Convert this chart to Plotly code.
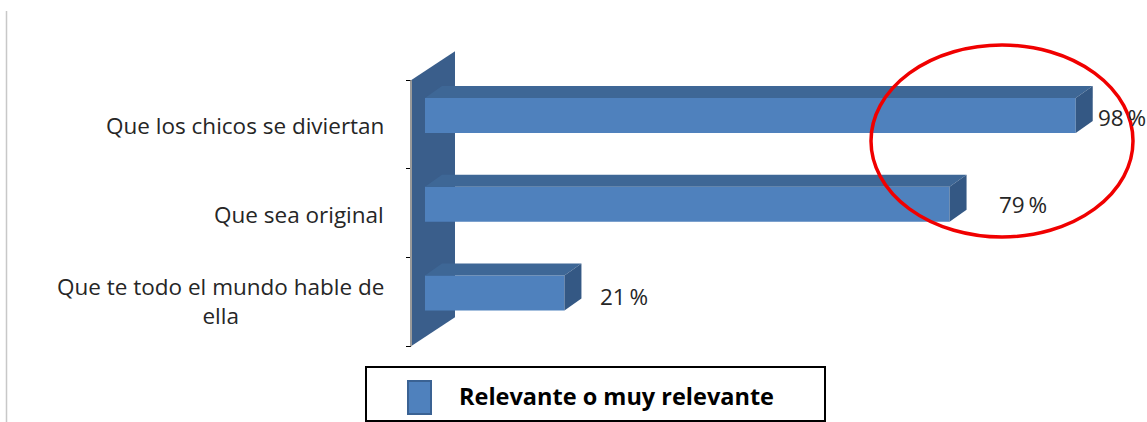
import plotly.graph_objects as go

# Survey results: share of answers rated "relevant or very relevant"
categories = [
    "Que los chicos se diviertan",
    "Que sea original",
    "Que te todo el mundo hable de<br>ella",
]
values = [98, 79, 21]
series_name = "Relevante o muy relevante"

W, H = 1147, 422

# Axis mapping (plot area spans the whole figure)
X0_PX, PX_PER_X = 425.0, 6.64         # pixel of value 0 and pixels per percent
Y0_PX, PX_PER_Y = 124.5, 88.7         # pixel of first category centre and per category
x_range = [-X0_PX / PX_PER_X, (W - X0_PX) / PX_PER_X]
y_range = [(H - Y0_PX) / PX_PER_Y, -Y0_PX / PX_PER_Y]   # reversed: first category on top


def dx(px):
    return px / PX_PER_X


def dy(px):
    return px / PX_PER_Y


FRONT = "#4F81BD"
TOP = "#3E6796"
SIDE = "#345884"
WALL = "#3A5E8B"

bar_width = dy(35)
bar_offset = -dy(26.5)
depth_x, depth_y = dx(17), dy(-12)

fig = go.Figure()

# Top and side faces of the 3D bars
for i, v in enumerate(values):
    yt = i + bar_offset
    yb = yt + bar_width
    fig.add_trace(go.Scatter(
        x=[0, v, v + depth_x, depth_x, 0],
        y=[yt, yt, yt + depth_y, yt + depth_y, yt],
        mode="lines", fill="toself", fillcolor=TOP,
        line=dict(width=0), hoverinfo="skip", showlegend=False))
    fig.add_trace(go.Scatter(
        x=[v, v + depth_x, v + depth_x, v, v],
        y=[yt, yt + depth_y, yb + depth_y, yb, yt],
        mode="lines", fill="toself", fillcolor=SIDE,
        line=dict(width=0), hoverinfo="skip", showlegend=False))

# Front faces
fig.add_trace(go.Bar(
    x=values, y=list(range(len(values))), orientation="h",
    width=bar_width, offset=bar_offset, base=0,
    marker=dict(color=FRONT, line=dict(width=0)),
    name=series_name, showlegend=False, hoverinfo="x"))

# Back wall of the 3D plot (drawn below the traces)
n = len(categories)
wall_x, wall_dx, wall_dy = dx(411 - X0_PX), dx(44), dy(-29)
wall_pts = [(wall_x, -0.5), (wall_x + wall_dx, -0.5 + wall_dy),
            (wall_x + wall_dx, n - 0.5 + wall_dy), (wall_x, n - 0.5)]
wall_path = "M " + " L ".join(f"{px},{py}" for px, py in wall_pts) + " Z"
shapes = [dict(type="path", xref="x", yref="y", path=wall_path,
               fillcolor=WALL, line=dict(width=0), layer="below")]

# Category axis line along the front edge of the wall
shapes.append(dict(type="line", xref="x", yref="y",
                   x0=wall_x, x1=wall_x, y0=-0.5, y1=n - 0.5,
                   line=dict(color="#9A9A9A", width=2)))

# Thin frame line on the left
shapes.append(dict(type="line", xref="paper", yref="paper",
                   x0=6.5 / W, x1=6.5 / W, y0=1 - 11 / H, y1=0,
                   line=dict(color="#C8C8C8", width=1.5)))

# Highlight ellipse around the top values
shapes.append(dict(type="circle", xref="paper", yref="paper",
                   x0=871 / W, x1=1133 / W, y0=1 - 45 / H, y1=1 - 237 / H,
                   line=dict(color="#F00000", width=3.5)))

# Legend box
shapes.append(dict(type="rect", xref="paper", yref="paper",
                   x0=366 / W, x1=825 / W, y0=1 - 367 / H, y1=1 - 421 / H,
                   line=dict(color="#000000", width=2), fillcolor="white"))
shapes.append(dict(type="rect", xref="paper", yref="paper",
                   x0=408 / W, x1=431 / W, y0=1 - 381 / H, y1=1 - 414 / H,
                   line=dict(color="#3A6293", width=2), fillcolor=FRONT))

annotations = []
label_font = dict(family="'Open Sans', 'DejaVu Sans', sans-serif", size=22.5, color="#262626")

# Category labels
label_y_nudge_px = [-1, -1, 1]
for i, c in enumerate(categories):
    annotations.append(dict(
        text=c, xref="paper", yref="y", x=386 / W, y=i,
        xanchor="right", yanchor="middle", align="center",
        yshift=label_y_nudge_px[i],
        showarrow=False, font=label_font))

# Value labels
label_shift_px = [20, 47, 34]
label_yshift_px = [7, 9, 5]
for i, v in enumerate(values):
    annotations.append(dict(
        text=f"{v}\u2009%", xref="x", yref="y", x=v, y=i,
        xanchor="left", yanchor="middle", xshift=label_shift_px[i],
        yshift=label_yshift_px[i], showarrow=False, font=label_font))

# Legend text
annotations.append(dict(
    text=f"<b>{series_name}</b>", xref="paper", yref="paper",
    x=457 / W, y=1 - 396 / H, xanchor="left", yanchor="middle",
    showarrow=False,
    font=dict(family="'Open Sans', 'DejaVu Sans', sans-serif", size=23.5, color="#000000")))

fig.update_layout(
    width=W, height=H,
    margin=dict(l=0, r=0, t=0, b=0),
    paper_bgcolor="white", plot_bgcolor="white",
    shapes=shapes, annotations=annotations,
    xaxis=dict(range=x_range, visible=False, fixedrange=True),
    yaxis=dict(range=y_range, showgrid=False, zeroline=False,
               anchor="free", position=411 / W, showline=False,
               tickmode="array", tickvals=[k - 0.5 for k in range(n + 1)],
               ticks="outside", ticklen=5, tickcolor="#000000", tickwidth=1,
               showticklabels=False, fixedrange=True),
    showlegend=False,
)

fig.write_html("out.html")
